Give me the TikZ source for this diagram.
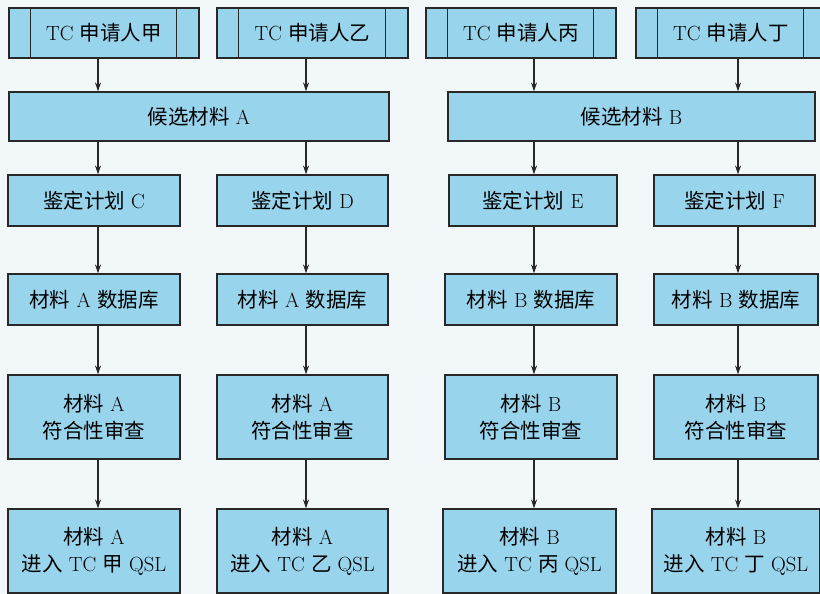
\documentclass[tikz,border=0pt]{standalone}
\usepackage{fontspec}
\newfontfamily\cjk{Noto Sans CJK SC}
\usetikzlibrary{arrows.meta}
\definecolor{bg}{RGB}{242,247,250}
\definecolor{boxfill}{RGB}{152,212,236}
\definecolor{edge}{RGB}{40,40,40}
\newcommand{\zh}[1]{{\cjk #1}}
\begin{document}
\begin{tikzpicture}[x=1pt,y=-1pt,
  box/.style={draw=edge, fill=boxfill, line width=1.1pt, inner sep=0pt, align=center,
    font=\fontsize{20.5}{27}\selectfont},
  arr/.style={draw=edge, line width=1.1pt, -{Stealth[length=9pt,width=6pt]}},
  sideline/.style={draw=edge, line width=1.1pt}]
\fill[bg] (0,0) rectangle (820,594);
\useasboundingbox (0,0) rectangle (820,594);

% column x positions of connectors
\coordinate (c1) at (98,0);
\coordinate (c2) at (306,0);
\coordinate (c3) at (534,0);
\coordinate (c4) at (738,0);

% row 1: applicants
\node[box, minimum width=190pt, minimum height=50pt] (T1) at (104,33) {TC \zh{申请人甲}};
\node[box, minimum width=191pt, minimum height=50pt] (T2) at (312.5,33) {TC \zh{申请人乙}};
\node[box, minimum width=190pt, minimum height=50pt] (T3) at (521,33) {TC \zh{申请人丙}};
\node[box, minimum width=190pt, minimum height=50pt] (T4) at (731,33) {TC \zh{申请人丁}};
\foreach \t in {T1,T2,T3,T4}{
  \draw[sideline] ([xshift=22pt]\t.north west) -- ([xshift=22pt]\t.south west);
  \draw[sideline] ([xshift=-23pt]\t.north east) -- ([xshift=-23pt]\t.south east);
}

% row 2: candidate materials
\node[box, minimum width=380pt, minimum height=49pt] (A) at (199,116.5) {\zh{候选材料} A};
\node[box, minimum width=367pt, minimum height=49pt] (B) at (631.5,116.5) {\zh{候选材料} B};

% row 3: qualification plans
\node[box, minimum width=172pt, minimum height=51pt] (P1) at (94,200.5) {\zh{鉴定计划} C};
\node[box, minimum width=171pt, minimum height=51pt] (P2) at (302.5,200.5) {\zh{鉴定计划} D};
\node[box, minimum width=168pt, minimum height=51pt] (P3) at (533,200.5) {\zh{鉴定计划} E};
\node[box, minimum width=161pt, minimum height=51pt] (P4) at (734.5,200.5) {\zh{鉴定计划} F};

% row 4: databases
\node[box, minimum width=172pt, minimum height=51pt] (D1) at (94,299.5) {\zh{材料} A \zh{数据库}};
\node[box, minimum width=171pt, minimum height=51pt] (D2) at (302.5,299.5) {\zh{材料} A \zh{数据库}};
\node[box, minimum width=172pt, minimum height=51pt] (D3) at (531,299.5) {\zh{材料} B \zh{数据库}};
\node[box, minimum width=164pt, minimum height=51pt] (D4) at (736,299.5) {\zh{材料} B \zh{数据库}};

% row 5: conformity review
\node[box, minimum width=172pt, minimum height=84pt] (R1) at (94,417) {\zh{材料} A\\\zh{符合性审查}};
\node[box, minimum width=171pt, minimum height=84pt] (R2) at (302.5,417) {\zh{材料} A\\\zh{符合性审查}};
\node[box, minimum width=172pt, minimum height=84pt] (R3) at (531,417) {\zh{材料} B\\\zh{符合性审查}};
\node[box, minimum width=164pt, minimum height=84pt] (R4) at (736,417) {\zh{材料} B\\\zh{符合性审查}};

% row 6: QSL
\node[box, minimum width=172pt, minimum height=84pt] (Q1) at (94,551) {\zh{材料} A\\\zh{进入} TC \zh{甲} QSL};
\node[box, minimum width=171pt, minimum height=84pt] (Q2) at (302.5,551) {\zh{材料} A\\\zh{进入} TC \zh{乙} QSL};
\node[box, minimum width=173pt, minimum height=84pt] (Q3) at (529.5,551) {\zh{材料} B\\\zh{进入} TC \zh{丙} QSL};
\node[box, minimum width=168pt, minimum height=84pt] (Q4) at (736,551) {\zh{材料} B\\\zh{进入} TC \zh{丁} QSL};

% connectors
\draw[arr] (T1.south -| c1) -- (A.north -| c1);
\draw[arr] (T2.south -| c2) -- (A.north -| c2);
\draw[arr] (T3.south -| c3) -- (B.north -| c3);
\draw[arr] (T4.south -| c4) -- (B.north -| c4);
\draw[arr] (A.south -| c1) -- (P1.north -| c1);
\draw[arr] (A.south -| c2) -- (P2.north -| c2);
\draw[arr] (B.south -| c3) -- (P3.north -| c3);
\draw[arr] (B.south -| c4) -- (P4.north -| c4);
\foreach \i in {1,2,3,4}{
  \draw[arr] (P\i.south -| c\i) -- (D\i.north -| c\i);
  \draw[arr] (D\i.south -| c\i) -- (R\i.north -| c\i);
  \draw[arr] (R\i.south -| c\i) -- (Q\i.north -| c\i);
}
\end{tikzpicture}
\end{document}
